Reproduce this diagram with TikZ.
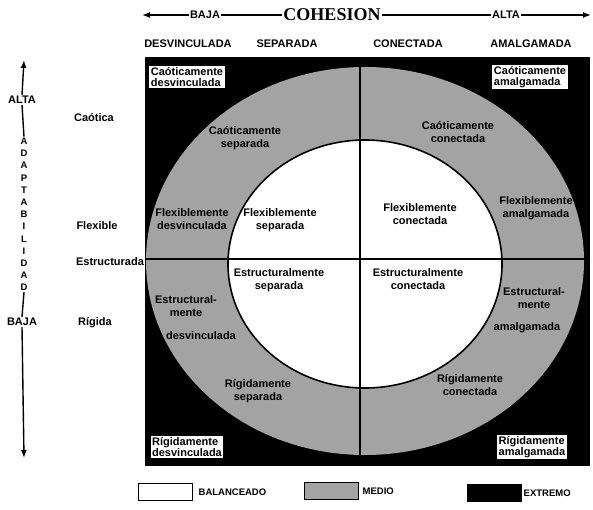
\documentclass[tikz,border=0pt]{standalone}
\usepackage{fontspec}
\setmainfont{Liberation Sans}
\newfontfamily\titlefont{Liberation Serif}
\usetikzlibrary{positioning, arrows.meta}

\definecolor{medio}{gray}{0.64}

\begin{document}
\begin{tikzpicture}[x=1pt, y=-1pt,
	lbl/.style={font=\fontsize{11}{12.5}\selectfont\bfseries, inner sep=1pt},
	small/.style={font=\fontsize{9.5}{10}\selectfont\bfseries, inner sep=1pt},
	ringlbl/.style={lbl, align=center},
	corner/.style={lbl, font=\fontsize{11}{11}\selectfont\bfseries, fill=white, align=left, inner sep=1.5pt},
	axis/.style={line width=1.4pt},
	tip/.style={-{Latex[length=8pt, width=6pt]}},
	legendbox/.style={draw=black, line width=1pt, minimum width=54pt, minimum height=17pt}
	]
	\useasboundingbox (0,0) rectangle (593,510);

	% the three zones
	\fill[black] (145,57) rectangle (590,466);
	\fill[medio] (365,261) ellipse [x radius=219, y radius=194];
	\draw[fill=white, line width=1.6pt] (365,264) ellipse [x radius=137, y radius=124];
	\draw[line width=1.2pt] (360,57) -- (360,466);
	\draw[line width=1.2pt] (145,259) -- (590,259);

	% cohesion axis
		\node (bajac) [lbl] at (205,15) {BAJA};
		\node (cohesion) [inner sep=1pt, font=\titlefont\fontsize{18}{18}\selectfont\bfseries] at (332,15) {COHESION};
		\node (altac) [lbl] at (506,15) {ALTA};
		\coordinate (cleft) at (142,15);
		\coordinate (cright) at (591,15);
	\draw [axis, tip] (bajac.west) -- (cleft);
	\draw [axis] (bajac.east) -- (cohesion.west);
	\draw [axis] (cohesion.east) -- (altac.west);
	\draw [axis, tip] (altac.east) -- (cright);

		\node (desv) [lbl] at (188,44) {DESVINCULADA};
		\node (sep) [lbl] at (287,44) {SEPARADA};
		\node (con) [lbl] at (408,44) {CONECTADA};
		\node (amal) [lbl] at (531,44) {AMALGAMADA};

	% adaptabilidad axis
		\node (altaa) [lbl] at (22,100) {ALTA};
		\foreach \l [count=\i] in {A,D,A,P,T,A,B,I,L,I,D,A,D}
			\node (ad\i) [small] at (24,129+12.2*\i) {\l};
		\node (bajaa) [lbl] at (22,322) {BAJA};
		\coordinate (atop) at (24,60);
		\coordinate (abot) at (24,458);
	\draw [axis, tip] (altaa.north) -- (atop);
	\draw [axis] (altaa.south) -- (ad1.north);
	\draw [axis] (ad13.south) -- (bajaa.north);
	\draw [axis, tip] (bajaa.south) -- (abot);

		\node (caotica) [lbl] at (94,118) {Caótica};
		\node (flexible) [lbl] at (97,226) {Flexible};
		\node (estructurada) [lbl] at (110,262) {Estructurada};
		\node (rigida) [lbl] at (95,323) {Rígida};

	% extremo
		\node (cdesv) [corner] at (187,77) {Caóticamente\\desvinculada};
		\node (camal) [corner] at (530,77) {Caóticamente\\amalgamada};
		\node (rdesv) [corner] at (187,447) {Rígidamente\\desvinculada};
		\node (ramal) [corner] at (532,447) {Rígidamente\\amalgamada};

	% medio
		\node (csep) [ringlbl] at (245,138) {Caóticamente\\separada};
		\node (ccon) [ringlbl] at (458,132) {Caóticamente\\conectada};
		\node (fdesv) [ringlbl] at (192,219) {Flexiblemente\\desvinculada};
		\node (famal) [ringlbl] at (536,208) {Flexiblemente\\amalgamada};
		\node (edesv) [ringlbl] at (186,306) {Estructural-\\mente};
		\node (edesvb) [ringlbl] at (201,336) {desvinculada};
		\node (eamal) [ringlbl] at (534,298) {Estructural-\\mente};
		\node (eamalb) [ringlbl] at (527,328) {amalgamada};
		\node (rsep) [ringlbl] at (258,391) {Rígidamente\\separada};
		\node (rcon) [ringlbl] at (470,385) {Rígidamente\\conectada};

	% balanceado
		\node (fsep) [ringlbl] at (280,220) {Flexiblemente\\separada};
		\node (fcon) [ringlbl] at (420,214) {Flexiblemente\\conectada};
		\node (esep) [ringlbl] at (279,280) {Estructuralmente\\separada};
		\node (econ) [ringlbl] at (418,279) {Estructuralmente\\conectada};

	% legend
		\node (lbal) [legendbox, fill=white] at (165,492) {};
		\node (tbal) [small, right=5pt of lbal] {BALANCEADO};
		\node (lmed) [legendbox, fill=medio] at (331,491) {};
		\node (tmed) [small, right=3pt of lmed] {MEDIO};
		\node (lext) [legendbox, fill=black] at (494,493) {};
		\node (text) [small, right=1pt of lext] {EXTREMO};

	\end{tikzpicture}
\end{document}
